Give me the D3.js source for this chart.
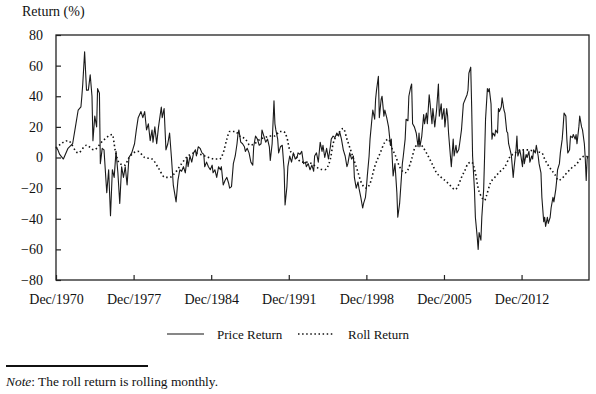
<!DOCTYPE html>
<html>
<head>
<meta charset="utf-8">
<script src="https://cdn.jsdelivr.net/npm/d3@7"></script>
<style>
  body { margin: 0; background: #fff; }
  svg { display: block; font-family: "Liberation Serif", "Times New Roman", serif; }
</style>
</head>
<body>
<div id="viz"></div>
<script>
// monthly price return (%), one line per year
const priceMonths = [
  "1970-12",
  "1971-02","1971-04","1971-08",
  "1972-01","1972-06","1972-09","1972-12",
  "1973-03","1973-04","1973-05","1973-07","1973-09","1973-11",
  "1974-01","1974-03","1974-04","1974-06","1974-08","1974-09","1974-11","1974-12",
  "1975-02","1975-04","1975-07","1975-09","1975-11",
  "1976-01","1976-03","1976-05","1976-07","1976-09","1976-11",
  "1977-01","1977-03","1977-05","1977-07","1977-10",
  "1978-01","1978-03","1978-05","1978-08","1978-10","1978-12",
  "1979-02","1979-04","1979-06","1979-08","1979-09","1979-11",
  "1980-01","1980-03","1980-06","1980-07","1980-09","1980-11",
  "1981-01","1981-03","1981-05","1981-07","1981-10","1981-12",
  "1982-02","1982-04","1982-06","1982-08","1982-10","1982-11",
  "1983-01","1983-03","1983-05","1983-07","1983-08","1983-10","1983-12",
  "1984-02","1984-04","1984-05","1984-07","1984-09","1984-11",
  "1985-01","1985-02","1985-04","1985-06","1985-08","1985-10","1985-11",
  "1986-01","1986-03","1986-05","1986-07","1986-08","1986-10","1986-12",
  "1987-02","1987-04","1987-05","1987-06","1987-08","1987-10","1987-12",
  "1988-01","1988-03","1988-05","1988-07","1988-09","1988-10","1988-12",
  "1989-02","1989-04","1989-06","1989-07","1989-09","1989-11",
  "1990-01","1990-03","1990-04","1990-06","1990-08","1990-09","1990-10","1990-12",
  "1991-01","1991-03","1991-05","1991-07","1991-08","1991-10","1991-11",
  "1992-01","1992-03","1992-05","1992-07","1992-09","1992-10","1992-12",
  "1993-02","1993-04","1993-06","1993-07","1993-09","1993-11",
  "1994-01","1994-03","1994-04","1994-06","1994-08","1994-10","1994-12",
  "1995-01","1995-03","1995-05","1995-07","1995-09","1995-10","1995-12",
  "1996-02","1996-04","1996-06","1996-07","1996-09","1996-11",
  "1997-01","1997-03","1997-04","1997-06","1997-08","1997-10","1997-11",
  "1998-01","1998-03","1998-04","1998-06","1998-08","1998-09","1998-11","1998-12",
  "1999-01","1999-03","1999-04","1999-06","1999-07","1999-09","1999-10","1999-11",
  "2000-01","2000-02","2000-04","2000-05","2000-07","2000-08","2000-10","2000-12",
  "2001-02","2001-03","2001-05","2001-07","2001-09","2001-10","2001-12",
  "2002-02","2002-03","2002-04","2002-06","2002-07","2002-09","2002-10","2002-12",
  "2003-01","2003-02","2003-04","2003-06","2003-08","2003-09","2003-10","2003-12",
  "2004-02","2004-03","2004-05","2004-06","2004-08","2004-09","2004-11","2004-12",
  "2005-02","2005-04","2005-06","2005-07","2005-09","2005-10","2005-12",
  "2006-01","2006-03","2006-04","2006-05","2006-07","2006-08","2006-10","2006-11",
  "2007-01","2007-02","2007-04","2007-05","2007-07","2007-09","2007-11",
  "2008-01","2008-02","2008-03","2008-05","2008-06","2008-07","2008-09","2008-10","2008-12",
  "2009-01","2009-02","2009-04","2009-05","2009-07","2009-08","2009-09","2009-11","2009-12",
  "2010-01","2010-03","2010-04","2010-05","2010-07","2010-08","2010-10","2010-11","2010-12",
  "2011-02","2011-03","2011-05","2011-06","2011-08","2011-09","2011-10","2011-12",
  "2012-01","2012-03","2012-04","2012-06","2012-07","2012-08","2012-10","2012-11",
  "2013-01","2013-02","2013-03","2013-05","2013-06","2013-08","2013-09","2013-11","2013-12",
  "2014-01","2014-03","2014-04","2014-06","2014-07","2014-09","2014-10","2014-12",
  "2015-01","2015-02","2015-04","2015-05","2015-07","2015-08","2015-10","2015-11",
  "2016-01","2016-02","2016-03","2016-05","2016-06","2016-08","2016-09","2016-10","2016-12",
  "2017-01","2017-02","2017-04","2017-05","2017-07","2017-08","2017-10","2017-11","2017-12",
  "2018-02","2018-03","2018-05","2018-06","2018-08","2018-09","2018-10","2018-11","2018-12"
];
const priceValues = [
  7,
  5, 2, -1,
  6, 9, 20, 31,
  33, 40, 48, 69, 44, 44,
  54, 40, 11, 27, 20, 45, 42, -4,
  6, 5, -23, -8, -38,
  -8, -13, 4, -10, -30, -6,
  -13, -6, -18, 0, 3,
  9, 18, 26, 30, 26, 30,
  18, 22, 11, 18, 10, 20,
  9, 20, 33, 26, 32, 5,
  9, 16, 0, -18, -29, -15,
  -8, -9, -6, -10, 0, -6,
  1, -3, 3, 5, 1, 7, 6,
  3, 2, -6, -3, -6, -8,
  -5, -10, -8, -13, -6, -8, -6,
  -18, -15, -13, -17, -20, -19, -4,
  1, 9, 15, 18, 10, 9, 7,
  4, 6, 3, -3, -5, 7, 14,
  12, 8, 9, 18, 14, 10,
  12, 7, -2, 9, 37, 22, 18, 12,
  3, 7, 8, -8, -31, -19, -6,
  1, -3, 3, -1, 0, 3, 2,
  4, -4, -3, -6, -4, -8,
  -5, -9, 1, 3, -3, 10, 4,
  8, 0, 6, -1, 7, 12, 14,
  13, 16, 14, 17, 12, 5,
  1, -6, -4, 3, -1, 1, -13,
  -20, -16, -20, -26, -33, -30, -26, -20,
  -12, 1, 12, 25, 31, 25, 38, 44,
  53, 26, 38, 40, 27, 31, 26, 20,
  8, 12, -12, -4, -23, -39, -30,
  -12, -4, 1, 12, 25, 24, 40, 46,
  48, 22, 20, 16, 7, 16, 7, 14,
  28, 22, 29, 22, 41, 35, 22, 32,
  20, 31, 48, 27, 35, 25, 32,
  20, 32, 27, 16, 1, -6, 12, 1,
  8, 3, 5, 9, 18, 35, 38,
  41, 44, 55, 59, 33, 1, -21, -39, -52,
  -60, -49, -54, -39, -21, 1, 25, 45, 43,
  45, 35, 12, 16, 14, 18, 16, 32, 30,
  33, 39, 31, 29, 17, 16, 9, 4,
  1, -13, -6, 5, 14, 1, 5, 2,
  -6, 5, -4, 2, 0, 4, -3, 1, -1,
  5, 3, 8, 1, -4, -10, -26, -42,
  -39, -45, -39, -43, -39, -33, -26, -29,
  -21, -15, -8, -4, 3, 12, 20, 29, 27,
  12, 3, 5, 14, 13, 15, 12, 15, 9,
  20, 27, 20, 18, 9, -1, -15, -1, 1
];

// roll return (%), a smoother series
const rollMonths = [
  "1970-12","1972-01","1972-12","1973-09","1974-05","1975-03","1976-01","1976-04",
  "1976-09","1977-03","1977-06","1978-05","1978-12","1979-08","1980-03","1980-10",
  "1981-03","1981-09","1982-04","1982-11","1983-06","1984-05","1985-04","1985-09",
  "1986-01","1986-05","1986-08","1987-02","1987-07","1988-01","1988-06","1988-11",
  "1989-05","1989-10","1990-04","1990-09","1991-02","1991-06","1991-10","1992-01",
  "1992-07","1993-02","1993-06","1994-01","1994-08","1995-03","1995-09","1995-12",
  "1996-06","1996-11","1997-03","1997-08","1998-02","1998-07","1998-12","1999-04",
  "1999-09","2000-03","2000-08","2000-12","2001-03","2001-07","2001-12","2002-06",
  "2002-09","2003-01","2003-05","2003-10","2004-01","2004-05","2004-11","2005-04",
  "2005-09","2006-03","2006-08","2006-12","2007-03","2007-07","2007-11","2008-02",
  "2008-06","2008-10","2009-01","2009-05","2009-08","2009-10","2010-02","2010-07",
  "2011-01","2011-06","2011-11","2012-05","2012-12","2013-07","2014-02","2014-10",
  "2015-01","2015-07","2015-12","2016-04","2016-07","2017-01","2017-06","2017-12",
  "2018-05","2018-09","2018-12"
];
const rollValues = [
  6, 11, 3, 8, 5, 11, 15, 5,
  -4, -5, -1, 4, 0, -1, -7, -13,
  -13, -10, -4, 1, 3, 1, -1, -1,
  3, 12, 17, 17, 14, 12, 8, 9,
  12, 13, 14, 14, 17, 17, 13, 5,
  1, -3, -3, -4, -7, -8, -1, 9,
  16, 19, 12, 3, -8, -17, -20, -17,
  -6, 3, 10, 12, 7, 2, -6, -10,
  -8, -1, 7, 9, 7, 3, -4, -10,
  -13, -16, -19, -21, -19, -13, -8, -4,
  -3, -10, -20, -26, -28, -25, -17, -13,
  -9, -6, 0, 3, 5, 5, 4, 3,
  -1, -7, -11, -15, -14, -10, -7, -4,
  0, 1, 0
];

const tickYears = [1970, 1977, 1984, 1991, 1998, 2005, 2012];
const yTicks = [-80, -60, -40, -20, 0, 20, 40, 60, 80];
const seriesNames = ["Price Return", "Roll Return"];

const W = 596, H = 394;
const margin = { top: 35, right: 7, bottom: 114, left: 56 },
  width = W - margin.left - margin.right,
  height = H - margin.top - margin.bottom;

const parseMonth = d3.timeParse("%Y-%m");
const price = priceMonths.map((m, i) => ({ date: parseMonth(m), value: priceValues[i] }));
const roll = rollMonths.map((m, i) => ({ date: parseMonth(m), value: rollValues[i] }));

const svg = d3.select("#viz").append("svg").attr("width", W).attr("height", H);
svg.append("rect").attr("width", W).attr("height", H).attr("fill", "#fff");

const g = svg.append("g").attr("transform", `translate(${margin.left},${margin.top})`);

const x = d3.scaleTime()
  .domain([parseMonth("1970-12"), parseMonth("2019-01")])
  .range([0, width]);
const y = d3.scaleLinear().domain([-80, 80]).range([height, 0]);

// X axis, ticks pointing inward
const xAxis = g.append("g")
  .attr("transform", `translate(0,${height})`)
  .call(d3.axisBottom(x)
    .tickValues(tickYears.map((yr) => parseMonth(yr + "-12")))
    .tickFormat(d3.timeFormat("Dec/%Y"))
    .tickSizeInner(-5).tickSizeOuter(0).tickPadding(14));

const yAxis = g.append("g")
  .call(d3.axisLeft(y).tickValues(yTicks).tickSizeInner(-5).tickSizeOuter(0).tickPadding(13));

[xAxis, yAxis].forEach((a) => {
  a.select(".domain").remove();
  a.selectAll("line").attr("stroke", "#222").attr("stroke-width", 1.2);
  a.selectAll("text").attr("font-size", 14).attr("fill", "#111")
    .attr("font-family", '"Liberation Serif", "Times New Roman", serif');
});

// frame
g.append("rect")
  .attr("width", width).attr("height", height)
  .attr("fill", "none").attr("stroke", "#222").attr("stroke-width", 1.3);

const line = d3.line().x((d) => x(d.date)).y((d) => y(d.value));

g.append("path").datum(roll)
  .attr("fill", "none").attr("stroke", "#111").attr("stroke-width", 1.6)
  .attr("stroke-dasharray", "1.5 2.6")
  .attr("d", line.curve(d3.curveMonotoneX));

g.append("path").datum(price)
  .attr("fill", "none").attr("stroke", "#1a1a1a").attr("stroke-width", 1.1)
  .attr("stroke-linejoin", "round")
  .attr("d", line.curve(d3.curveLinear));

// y axis title
svg.append("text").attr("x", 22).attr("y", 16)
  .attr("font-size", 14).attr("fill", "#111").text("Return (%)");

// legend
const legend = svg.append("g").attr("font-size", 13).attr("fill", "#111");
legend.append("line").attr("x1", 167).attr("x2", 204).attr("y1", 334).attr("y2", 334)
  .attr("stroke", "#111").attr("stroke-width", 1.2);
legend.append("text").attr("x", 217).attr("y", 338.5).text(seriesNames[0]);
legend.append("line").attr("x1", 298).attr("x2", 334).attr("y1", 334).attr("y2", 334)
  .attr("stroke", "#111").attr("stroke-width", 1.6).attr("stroke-dasharray", "1.5 2.6");
legend.append("text").attr("x", 348).attr("y", 338.5).text(seriesNames[1]);

// note
svg.append("line").attr("x1", 6).attr("x2", 148).attr("y1", 366).attr("y2", 366)
  .attr("stroke", "#111").attr("stroke-width", 2);
const note = svg.append("text").attr("x", 6).attr("y", 385.5).attr("font-size", 13.4).attr("fill", "#111");
note.append("tspan").attr("font-style", "italic").text("Note");
note.append("tspan").text(": The roll return is rolling monthly.");
</script>
</body>
</html>
